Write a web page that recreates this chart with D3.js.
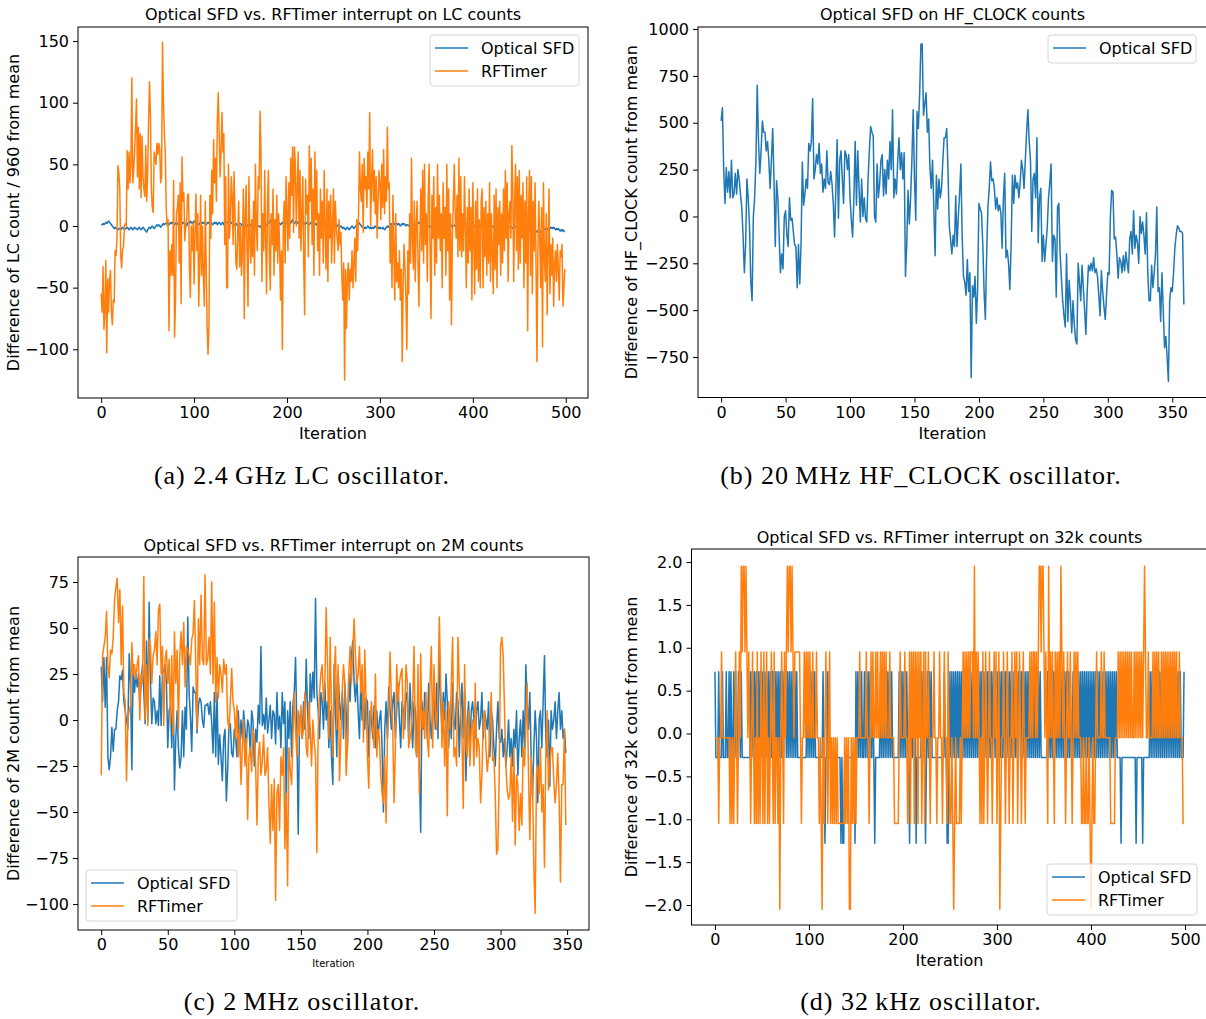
<!DOCTYPE html>
<html>
<head>
<meta charset="utf-8">
<script src="https://cdnjs.cloudflare.com/ajax/libs/d3/7.8.5/d3.min.js"></script>
<style>
  body { margin: 0; background: #fff; }
  svg text { font-family: "DejaVu Sans", sans-serif; fill: #000; }
  svg text.caption { font-family: "Liberation Serif", serif; letter-spacing: 1px; }
</style>
</head>
<body>
<svg id="fig" width="1206" height="1019"></svg>
<script>
// ---- (a) LC oscillator, 500 iterations
var lcSfd = [
  1,1,2,1,2,3,2,3,4,3, 2,1,0,-1,-2,-1,-2,-2,-3,-2, -2,-3,-2,-1,-2,-3,-2,-2,-1,-2,
  -3,-2,-1,-2,-3,-2,-1,-2,-2,-3, -2,-1,-2,-3,-2,-1,-2,-3,-4,-5, -3,-2,-1,-2,-1,0,-1,-2,-1,0,
  1,0,1,0,-1,0,1,2,1,2, 2,3,2,1,2,3,2,3,2,1, 2,3,2,1,3,2,1,2,3,2,
  2,1,0,2,3,2,4,3,2,3, 4,3,2,3,2,1,2,3,2,3, 2,3,2,1,2,3,2,3,4,2,
  1,2,3,2,3,1,2,3,2,1, 2,3,1,2,3,2,3,4,3,2, 3,2,1,0,1,2,1,0,1,2,
  2,1,0,1,2,1,0,1,0,-1, 0,1,0,-1,0,1,0,0,1,0, 0,-1,0,1,0,0,1,0,1,2,
  3,2,4,5,3,2,1,2,3,2, 2,3,2,1,2,3,2,3,4,3, 2,3,4,3,2,4,5,3,2,3,
  4,3,2,3,2,3,4,2,1,2, 3,2,3,2,1,2,3,2,1,2, 1,2,1,0,1,2,1,0,1,0,
  1,0,1,2,1,0,-1,0,1,0, 0,1,0,-1,0,1,0,-1,0,-1, -2,-1,-2,-3,-2,-1,-2,-3,-2,-1,
  0,-1,-2,-1,0,1,2,3,2,1, 0,-1,-1,-2,-1,-2,-1,0,-1,-2, -1,-2,-1,-2,-1,0,-1,-2,-1,-2,
  -1,-2,-2,-1,-2,-3,-2,-1,0,-1, 0,1,2,1,0,1,2,1,2,1, 2,1,0,1,2,1,2,1,0,1,
  1,0,1,2,1,0,1,0,1,2, 1,2,3,2,3,1,2,1,0,1, 0,1,0,-1,0,-1,0,-1,0,-1,
  -1,0,-1,-2,-1,0,-1,0,-1,-2, -1,0,1,0,-1,0,-1,0,1,0, 0,1,0,1,2,1,0,1,0,1,
  1,0,1,2,1,0,1,0,1,0, 0,1,0,-1,0,1,0,1,0,-1, 0,-1,0,1,0,-1,0,1,0,0,
  -1,0,-1,0,1,0,-1,0,-1,0, 0,1,0,-1,0,1,0,-1,-2,-1, -1,0,-1,-2,-1,0,-1,0,-1,-2,
  -1,-2,-1,0,-1,-2,-1,-2,-1,-2, -2,-3,-2,-3,-4,-3,-2,-3,-4,-5, -4,-3,-4,-5,-4,-3,-4,-3,-2,-3,
  -2,-3,-2,-1,-2,-1,-2,-1,-2,-3, -2,-3,-2,-3,-4,-3,-4,-3,-4,-5
];
var lcRf = [
  -55,-70,-33,-84,-70,-28,-103,-43,-70,-44, -36,-70,-80,-60,-62,-20,-24,-10,49,43,
  31,-24,-34,-19,-17,0,2,0,61,30, 60,35,50,120,35,45,60,80,103,40,
  80,30,75,23,73,40,30,24,65,20, 40,85,117,90,30,15,11,60,55,50,
  67,58,67,63,35,40,149,100,75,60, 15,0,5,-85,-20,-40,-15,-40,37,-90,
  -60,10,15,25,-30,35,-63,56,20,27, -12,0,5,25,26,-35,-58,0,-20,2,
  -47,-5,26,-20,10,-65,-30,25,-40,0, -40,-65,20,-30,-80,-104,-82,25,-10,45,
  10,70,35,55,20,85,108,75,40,60, 92,60,75,-15,40,-50,-50,50,-10,5,
  40,25,-15,44,10,-30,-35,-5,20,-33, 0,-40,-20,30,-75,10,33,-20,-65,40,
  -10,-30,5,-25,20,-40,50,0,-20,40, 30,93,60,-45,10,-20,45,-10,-55,20,
  45,-25,-52,10,-15,30,-40,5,-20,25, -30,10,-15,-60,-20,-100,0,20,-30,40,
  10,-20,35,-10,55,25,64,-5,64,50, 0,30,60,-10,45,-20,10,40,-30,-72,
  38,10,25,-25,65,20,55,-15,30,-40, 60,5,45,-20,10,-40,30,-10,20,-30,
  45,0,-35,30,-45,20,-10,25,-30,0, 30,-30,20,0,-10,-20,5,-15,-5,-40,
  -60,-30,-125,-35,-83,-40,-30,-60,-35,-45, -20,-50,-30,-10,-45,5,-20,10,60,30,
  20,50,-5,55,30,40,15,60,30,92, 0,35,62,20,45,10,40,-10,20,45,
  35,5,50,15,62,10,40,20,80,30, 35,-30,0,-50,25,-20,-60,10,-45,-30,
  -50,-20,-60,-35,-110,-45,-15,-35,-60,-100, -20,-55,10,-30,55,-10,-35,20,-45,0,
  20,-30,-65,-10,30,-20,45,-30,50,-15, 10,-45,25,50,-20,-75,25,-10,40,-40,
  15,-30,50,-10,25,-20,10,-50,35,-10, 15,-40,50,-20,30,-60,10,-80,-10,20,
  50,10,-10,25,-25,55,-20,40,-25,10, -20,40,0,-50,15,-30,30,-20,15,-60,
  35,-10,-55,20,-35,30,-45,5,-50,20, 30,-50,15,-25,20,-40,10,-30,35,-45,
  10,-20,-55,25,-35,30,-50,15,-15,20, -40,10,-30,30,-20,45,-10,35,-45,10,
  20,-10,65,30,-45,20,50,-20,40,-35, 45,-30,25,-10,35,-50,20,-30,40,-85,
  10,45,-40,40,-55,20,-20,35,-30,-110, -20,20,-10,-50,15,-98,35,-25,-45,10,
  -72,-20,30,-55,-15,-40,-10,-65,-30,-20, -45,-15,-35,-60,-20,-25,-15,-65,-50,-35
];

// ---- (b) HF_CLOCK, 360 iterations
var hfSfd = [
  510,580,250,70,260,130,240,100,300,100, 120,230,120,250,200,120,50,-100,-300,-150,
  200,100,-50,-350,-450,0,100,300,700,
  400,230,350,510,450,450,350,400,300,150, 300,470,200,-160,190,100,-100,-300,-200,-280,
  0,30,-100,-160,100,-20,-10,-80,-150,-160, -380,-150,-360,-150,290,60,120,200,150,390,
  350,400,630,
  200,250,330,280,390,230,280,130,200,150, 350,180,170,240,175,70,-110,150,410,-10,
  300,350,200,70,350,330,250,330,100,-20, -110,100,400,60,350,150,-30,200,0,100,
  -10,-30,200,350,480,450,430,0,-30,280, 100,180,300,330,110,250,120,300,200,400,
  250,570,
  100,200,120,300,420,250,340,200,340,-320, -150,140,-40,100,300,570,200,-20,560,470,
  650,920,920,
  540,600,660,450,520,260,150,300,50,-210, 220,40,200,100,150,300,420,420,470,250,
  -50,-120,-200,-100,-160,110,-160,0,120,280, -100,-320,-350,-420,-230,-400,-300,-860,
  -370,-430,-320,-570,-380,70,40,20,-150,-400, -550,-200,50,150,290,190,200,150,40,100,
  30,60,20,-170,100,230,-220,-180,-250,-390, -150,220,70,220,150,180,100,180,300,250,
  150,300,450,570,
  400,300,-80,200,230,100,420,-140,100,150,-240,
  -100,-240,-150,-60,100,180,280,-240,-100,-120, -430,50,70,-200,-330,-450,-530,-590,-200,-560,
  -340,-450,-620,-450,-580,-660,-680,-250,-350,-450, -260,-380,-500,-630,-400,-260,-290,-250,-290,-220,
  -300,-280,-320,-420,-530,-290,-400,-480,-550,-420, -300,-310,0,140,130,-120,-110,-200,-330,-220,
  -240,-300,-210,-290,-190,-250,-300,-120,-80,-200, 30,-170,-100,-140,-250,0,-90,-30,-100,-200,
  20,-300,-450,-450,-260,-380,-300,-200,50,-400, -380,-560,-300,-500,-700,-640,-750,-880,
  -450,-380,-400,-300,-170,-100,-50,-60,-80,-80,-90,-470
];

// ---- (c) 2 MHz oscillator, 350 iterations
var mhzSfd = [
  29,10,34,7,34,-20,-27,-20,-4,-17, -5,-5,5,10,24,22,27,10,5,0, -5,36,20,-27,30,15,25,18,25,8,
  22,30,15,-2,43,0,64,20,-2,12, 10,-2,5,-3,24,-3,25,27,30,20, -15,5,8,-15,20,-38,-10,5,-15,-26,
  -20,5,-20,7,-5,56,15,2,-17,18, 15,15,-7,8,12,10,0,-4,8,8, 9,3,10,-2,-18,15,-20,15,-24,-8,
  -20,-33,-10,-5,-44,-27,-2,-2,-18,-20, -5,-10,-20,5,-15,0,-10,5,-5,-15, 0,-3,-20,5,0,-25,-5,-12,8,-2,
  40,-3,3,-5,12,-7,0,8,-10,5, 3,-13,15,-5,2,-15,15,-2,10,-48, 5,-10,10,-20,8,15,34,-5,-62,0,
  5,-10,10,-5,33,5,-10,25,10,26, 12,66,15,5,-10,15,10,-5,20,0, 10,-15,5,-20,-35,30,5,-20,25,10,
  0,15,-10,20,5,-15,25,10,35,43, 20,10,25,5,-10,20,0,15,-5,12, 10,-20,5,0,-10,8,-15,5,-10,0,
  5,-15,-50,-5,10,-10,18,5,-5,10, 15,-10,5,20,0,-15,10,5,-5,15, 12,-10,20,0,-15,10,5,-20,15,-25,
  -61,10,-5,15,5,-10,20,0,-10,5, 15,-5,20,-10,39,10,-5,15,0,25, 10,-15,5,-10,20,0,-5,15,10,-20,
  5,20,-10,15,-33,0,10,-15,5,10, 0,-10,5,10,-5,0,15,-10,5,0, -5,10,-20,5,0,-15,-25,-5,10,-10,
  -12,-5,-20,-10,-25,-15,0,-20,-10,-25, -5,-15,5,-30,-10,0,-20,5,-15,30, 10,-5,15,-20,-42,-15,5,-10,-45,0,
  5,-15,10,35,-10,-20,0,-36,5,-5, 0,10,-10,5,15,-5,5,-10,-5,-18
];
var mhzRf = [
  -30,35,40,45,59,30,23,38,36,45, 65,72,77,53,71,30,62,15,10,-33, 0,5,8,42,25,30,22,30,35,0,
  25,20,78,0,30,-3,44,40,20,35, 38,48,30,60,63,25,40,-3,33,38, 20,33,-2,35,-8,48,20,38,-5,35,
  48,30,53,18,40,38,35,30,44,47, 65,30,-5,55,30,68,33,30,79,30, 33,45,25,75,20,64,10,34,12,30,
  25,15,33,25,30,0,-5,10,28,10, 5,-10,8,-20,-5,-35,-15,0,-25,-10, -54,-20,-15,-28,-5,-10,-25,-57,-20,-12,
  -30,-22,-8,-30,-27,-15,-45,-67,-35,-60, -32,-98,-40,-35,-60,-20,-30,-15,-70,-40, -90,-15,-27,-35,-10,15,-5,-20,5,-8,
  8,-10,-5,15,-15,-20,10,-5,-25,0, -12,-20,-72,-5,15,25,30,10,20,61, 30,-10,45,5,-20,25,40,-5,30,-33,
  -10,15,30,20,-30,-15,25,40,20,38, 55,35,20,25,40,15,30,-12,38,10, -20,-37,0,10,-5,-15,25,-20,-5,-10,
  -30,-40,-45,-20,-56,-10,5,37,10,-5, -45,-15,30,10,20,25,28,-10,5,30, 20,-15,-10,-5,10,40,-15,-20,30,-40,
  36,-5,5,-10,15,-10,-20,20,40,-15, 30,5,-5,15,56,20,-15,10,-25,5, -52,10,-5,20,45,-20,-15,-25,45,20,
  5,-10,-48,30,-15,-20,5,-25,-5,0, -25,20,-20,-10,-15,-45,-30,0,5,-15, -28,-20,-5,15,-22,-20,-40,-73,-70,-30,
  40,45,35,5,-25,-38,-43,-40,-20,-55, -15,-68,-30,-35,-60,-40,-57,-15,-25,-5, 20,-30,-65,-20,-35,-80,-105,-30,-25,-40,
  -15,-50,-35,-80,-20,5,-38,-25,-15,-15, -33,-45,-35,-18,-42,-88,-35,-35,-5,-57
];

// ---- (d) 32 kHz oscillator, 500 iterations (integer count difference, minus the mean)
var k32SfdCounts = [
  1,0,0,0,1,0,0,0,1,0, 0,0,1,0,0,1,0,1,0,0, 1,0,1,0,0,1,1,0,1,0, 0,0,0,0,0,0,0,0,1,0,
  1,0,1,0,1,0,1,0,1,1, 0,1,0,1,0,1,0,1,0,1, 0,1,1,0,1,0,1,0,1,0, 1,0,1,0,1,1,0,1,0,1,
  0,1,0,1,0,1,0,1,0,0, 0,0,0,0,0,0,0,0,1,0, 1,0,1,0,1,0,1,0,0,0, 0,0,0,0,0,1,0,-1,0,0,
  1,0,0,0,0,0,0,0,0,0, 0,0,0,0,-1,0,-1,-1,0,0, 0,0,0,0,0,0,0,0,0,-1, 1,0,1,0,1,0,1,0,0,1,
  0,1,0,1,0,1,0,0,1,0, -1,0,0,0,0,0,1,0,1,0, 1,0,1,0,1,0,1,0,1,0, 0,0,0,0,0,0,1,0,1,0,
  1,0,1,0,1,0,0,-1,0,1, 0,1,0,1,-1,0,0,0,0,0, 1,0,1,0,-1,0,1,0,1,0, 1,0,0,0,0,0,0,0,0,0,
  0,0,0,0,1,0,0,-1,-1,0, 1,0,1,0,1,0,1,0,1,0, 1,0,1,0,1,0,1,0,1,0, 1,0,1,0,1,0,1,0,1,0,
  1,0,1,0,1,0,1,0,1,0, 1,0,1,0,1,0,1,1,0,1, 0,1,0,1,0,1,0,1,0,1, 0,1,0,1,0,1,0,1,0,1,
  0,1,0,1,1,0,1,0,1,0, 1,0,1,0,1,0,1,0,1,0, 1,0,1,0,1,0,1,0,0,0, 0,0,0,0,1,0,1,0,1,0,
  1,0,1,0,1,0,1,0,1,0, 1,0,1,0,1,0,1,0,1,0, 0,1,0,1,0,1,0,1,0,1, 0,1,0,1,0,1,0,1,0,1,
  0,1,0,1,0,1,0,1,0,1, 0,1,0,1,0,1,0,1,0,1, 0,1,0,1,0,1,0,1,0,0, 0,0,-1,0,0,0,0,0,0,0,
  0,0,0,0,0,0,0,0,-1,0, 0,0,0,0,0,-1,0,0,0,0, 0,0,0,1,0,1,0,1,0,1, 0,1,0,1,0,1,0,1,0,1,
  0,1,0,1,0,1,0,1,0,1, 0,1,0,1,0,1,0,0,0,1
];
var k32SfdMean = 0.28;
var k32RfCounts = [
  0,0,0,0,-1,0,0,1,0,0, 0,0,0,0,0,0,-1,0,-1,0, -1,0,1,0,-1,0,1,0,2,1, 2,2,1,2,1,0,1,0,-1,0,
  1,0,-1,0,-1,1,-1,0,-1,1, 0,-1,1,-1,0,1,-1,0,-1,0, 1,0,-1,1,-1,0,0,-1,0,-2, 0,1,0,-1,1,0,1,2,1,2,
  2,1,2,1,0,1,1,1,1,1, 1,0,-1,0,0,1,0,1,0,1, 0,1,0,0,1,0,0,0,1,0, 0,-1,0,-1,-2,0,-1,0,1,0,
  -1,0,1,-1,0,-1,0,-1,0,-1, 0,-1,-1,-1,-1,-1,-1,-1,0,-1, 0,-1,0,-2,-2,0,-1,0,-1,0, -1,0,0,0,1,0,0,0,0,0,
  0,1,0,0,-1,0,1,0,1,0, 0,1,0,1,0,0,1,0,1,0, 1,0,1,0,0,0,1,0,0,0, 0,-1,-1,-1,-1,-1,0,1,0,0,
  0,0,1,0,0,-1,0,1,-1,1, 0,1,-1,1,0,1,-1,1,0,1, -1,0,1,-1,1,0,0,1,0,-1, 0,0,0,1,0,0,-1,0,0,1,
  0,0,-1,0,1,0,0,-1,1,0, -1,-1,0,-1,-2,-1,0,-1,-1,-1, -1,0,-1,0,1,0,1,0,1,0, 1,0,1,1,1,0,2,0,1,0,
  1,0,-1,0,-1,1,-1,0,1,0, -1,0,1,0,0,-1,0,1,0,1, -1,0,1,-2,-1,0,0,1,0,-1, 0,1,0,-1,0,0,1,-1,0,1,
  0,1,-1,0,1,0,-1,0,1,0, -1,0,0,0,0,1,0,1,0,1, 1,0,1,0,1,2,2,1,2,2, 1,0,1,0,-1,2,0,1,0,1,
  0,-1,1,0,1,0,1,0,2,1, 0,1,0,-1,0,1,0,0,1,0, -1,0,1,0,1,0,1,0,0,0, -1,-1,0,-1,-1,0,-1,-1,0,-1,
  -2,-1,0,-1,-1,0,1,0,0,0, 0,1,0,0,1,0,0,0,0,0, 0,-1,-1,-1,-1,-1,0,0,0,1, 0,1,0,1,0,1,0,1,0,1,
  0,1,0,1,0,0,1,0,1,0, 1,0,1,0,1,0,1,2,1,0, 0,1,0,0,0,0,1,0,1,0, 1,0,1,0,0,1,0,1,0,1,
  0,1,0,1,0,1,0,1,0,1, 0,1,0,0,1,0,0,0,-1,-1
];
var k32RfMean = 0.05;
var k32Sfd = k32SfdCounts.map(function (c) { return c - k32SfdMean; });
var k32Rf = k32RfCounts.map(function (c) { return c - k32RfMean; });

// tick labels
var lcXTicks = [0, 100, 200, 300, 400, 500];
var lcYTicks = [-100, -50, 0, 50, 100, 150];
var hfXTicks = [0, 50, 100, 150, 200, 250, 300, 350];
var hfYTicks = [-750, -500, -250, 0, 250, 500, 750, 1000];
var mhzXTicks = [0, 50, 100, 150, 200, 250, 300, 350];
var mhzYTicks = [-100, -75, -50, -25, 0, 25, 50, 75];
var k32XTicks = [0, 100, 200, 300, 400, 500];
var k32YTicks = [-2, -1.5, -1, -0.5, 0, 0.5, 1, 1.5, 2];

var blue = "#1f77b4", orange = "#ff7f0e";
var fs = 16;

var panels = [
  { left: 78, right: 588, top: 27, bottom: 398, xDomain: [-24.95, 523.95], yDomain: [-139.5, 161.4],
    xTicks: lcXTicks, yTicks: lcYTicks, yFmt: "d",
    series: [{ name: "Optical SFD", values: lcSfd, color: blue }, { name: "RFTimer", values: lcRf, color: orange }],
    title: "Optical SFD vs. RFTimer interrupt on LC counts", titleY: 20,
    yLabel: "Difference of LC count / 960 from mean", yLabelX: 19,
    xLabelY: 439, xLabelSize: fs,
    legend: { x: 430, y: 35, w: 149, h: 51 },
    caption: "(a) 2.4\u2009GHz LC oscillator.", capX: 302, capY: 484 },
  { left: 698, right: 1207, top: 27, bottom: 397.5, xDomain: [-17.95, 376.95], yDomain: [-966, 1011],
    xTicks: hfXTicks, yTicks: hfYTicks, yFmt: "d",
    series: [{ name: "Optical SFD", values: hfSfd, color: blue }],
    title: "Optical SFD on HF_CLOCK counts", titleY: 20,
    yLabel: "Difference of HF_CLOCK count from mean", yLabelX: 637,
    xLabelY: 439, xLabelSize: fs,
    legend: { x: 1048, y: 35, w: 148, h: 28 },
    caption: "(b) 20\u2009MHz HF_CLOCK oscillator.", capX: 921, capY: 484 },
  { left: 78, right: 589, top: 557, bottom: 930, xDomain: [-17.45, 366.45], yDomain: [-114.1, 88.6],
    xTicks: mhzXTicks, yTicks: mhzYTicks, yFmt: "d",
    series: [{ name: "Optical SFD", values: mhzSfd, color: blue }, { name: "RFTimer", values: mhzRf, color: orange }],
    title: "Optical SFD vs. RFTimer interrupt on 2M counts", titleY: 551,
    yLabel: "Difference of 2M count from mean", yLabelX: 19,
    xLabelY: 967, xLabelSize: 10,
    legend: { x: 86, y: 870, w: 151, h: 51 },
    caption: "(c) 2\u2009MHz oscillator.", capX: 302, capY: 1010 },
  { left: 691.5, right: 1207.5, top: 549, bottom: 925, xDomain: [-24.95, 523.95], yDomain: [-2.233, 2.152],
    xTicks: k32XTicks, yTicks: k32YTicks, yFmt: ".1f",
    series: [{ name: "Optical SFD", values: k32Sfd, color: blue }, { name: "RFTimer", values: k32Rf, color: orange }],
    title: "Optical SFD vs. RFTimer interrupt on 32k counts", titleY: 543,
    yLabel: "Difference of 32k count from mean", yLabelX: 637,
    xLabelY: 966, xLabelSize: fs,
    legend: { x: 1047, y: 864, w: 150, h: 51 },
    caption: "(d) 32\u2009kHz oscillator.", capX: 921, capY: 1010 }
];

var svg = d3.select("#fig");
svg.append("rect").attr("width", 1206).attr("height", 1019).attr("fill", "#fff");

panels.forEach(function (p, k) {
  var x = d3.scaleLinear().domain(p.xDomain).range([p.left, p.right]);
  var y = d3.scaleLinear().domain(p.yDomain).range([p.bottom, p.top]);
  var g = svg.append("g");

  g.append("clipPath").attr("id", "clip" + k)
    .append("rect").attr("x", p.left).attr("y", p.top)
    .attr("width", p.right - p.left).attr("height", p.bottom - p.top);

  var line = d3.line().x(function (d, i) { return x(i); }).y(function (d) { return y(d); });
  p.series.forEach(function (s) {
    g.append("path").datum(s.values)
      .attr("clip-path", "url(#clip" + k + ")")
      .attr("fill", "none").attr("stroke", s.color)
      .attr("stroke-width", 1.5).attr("stroke-linejoin", "round")
      .attr("d", line);
  });

  var xa = g.append("g").attr("transform", "translate(0," + p.bottom + ")")
    .call(d3.axisBottom(x).tickValues(p.xTicks).tickFormat(d3.format("d")).tickSize(5).tickPadding(4));
  var ya = g.append("g").attr("transform", "translate(" + p.left + ",0)")
    .call(d3.axisLeft(y).tickValues(p.yTicks).tickFormat(d3.format(p.yFmt)).tickSize(5).tickPadding(4));
  [xa, ya].forEach(function (a) {
    a.select(".domain").remove();
    a.attr("font-family", null).attr("font-size", fs).attr("color", "#000");
    a.selectAll("line").attr("stroke-width", 1);
  });

  // spines
  g.append("rect").attr("x", p.left).attr("y", p.top)
    .attr("width", p.right - p.left).attr("height", p.bottom - p.top)
    .attr("fill", "none").attr("stroke", "#000").attr("stroke-width", 1);

  var cx = (p.left + p.right) / 2;
  g.append("text").attr("x", cx).attr("y", p.titleY).attr("text-anchor", "middle")
    .attr("font-size", fs).text(p.title);
  g.append("text").attr("x", cx).attr("y", p.xLabelY).attr("text-anchor", "middle")
    .attr("font-size", p.xLabelSize).text("Iteration");
  g.append("text")
    .attr("transform", "translate(" + p.yLabelX + "," + ((p.top + p.bottom) / 2) + ") rotate(-90)")
    .attr("text-anchor", "middle").attr("font-size", fs).text(p.yLabel);

  // legend
  var L = p.legend;
  var lg = g.append("g");
  lg.append("rect").attr("x", L.x).attr("y", L.y).attr("width", L.w).attr("height", L.h)
    .attr("rx", 3).attr("fill", "#fff").attr("fill-opacity", 0.8)
    .attr("stroke", "#d6d6d6").attr("stroke-width", 1);
  p.series.forEach(function (s, i) {
    var ly = L.y + 13 + i * 23;
    lg.append("line").attr("x1", L.x + 5).attr("x2", L.x + 38).attr("y1", ly).attr("y2", ly)
      .attr("stroke", s.color).attr("stroke-width", 1.5);
    lg.append("text").attr("x", L.x + 51).attr("y", ly).attr("dy", "0.35em")
      .attr("font-size", fs).text(s.name);
  });

  g.append("text").attr("class", "caption").attr("x", p.capX).attr("y", p.capY)
    .attr("text-anchor", "middle").attr("font-size", 26).text(p.caption);
});
</script>
</body>
</html>
